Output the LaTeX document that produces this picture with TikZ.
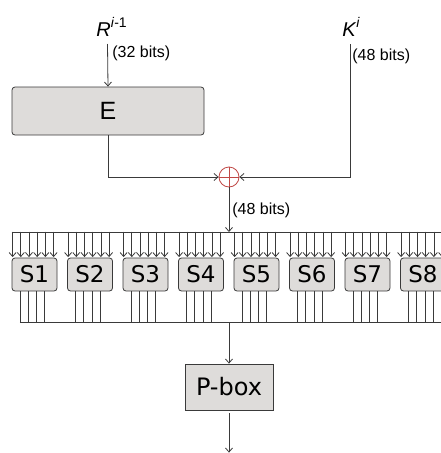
\documentclass[tikz,border=0pt]{standalone}
\usepackage{fontspec}
\setmainfont{Liberation Sans}
\newfontfamily\boxfont{DejaVu Sans}
\usepackage{tikz}
\usetikzlibrary{positioning, arrows.meta, calc}
\definecolor{BoxFill}{RGB}{222,220,218}
\definecolor{WireGray}{RGB}{58,58,58}
\definecolor{XorRed}{RGB}{192,72,70}

\begin{document}
\begin{tikzpicture}[x=1pt, y=-1pt, line width=0.8pt,
    wire/.style={draw=WireGray},
    arr/.style={wire, -{Straight Barb[length=4pt, width=7pt]}},
    block/.style={draw=WireGray, fill=BoxFill, inner sep=0pt},
    sbox/.style={block, rounded corners=3pt, minimum width=45pt, minimum height=33pt, font=\boxfont\fontsize{23}{23}\selectfont},
    bits/.style={font=\fontsize{16}{16}\selectfont, inner sep=0pt, anchor=west}]
  \useasboundingbox (0,0) rectangle (441,453);
  % inputs
  \node[anchor=base west, inner sep=0pt, font=\fontsize{20}{20}\selectfont] (rlabel) at (96,36)
    {\textit{R}\raisebox{9pt}{\fontsize{14}{14}\selectfont\textit{i}-1}};
  \node[anchor=base west, inner sep=0pt, font=\fontsize{20}{20}\selectfont] (klabel) at (342,36)
    {\textit{K}\raisebox{9pt}{\fontsize{14}{14}\selectfont\textit{i}}};
  \coordinate (rin) at (107.5,44);
  \coordinate (kin) at (350,44);
  \node[block, rounded corners=3pt, minimum width=192pt, minimum height=48pt, font=\fontsize{25}{25}\selectfont] (E) at (108,111) {E};
  \node[circle, draw=XorRed, minimum size=20pt, inner sep=0pt] (xor) at (229,177) {};
  \draw[XorRed] (xor.north) -- (xor.south) (xor.west) -- (xor.east);
  \node[bits] (rbits) at (112,53) {(32 bits)};
  \node[bits] (kbits) at (352,56) {(48 bits)};
  \node[bits] (xbits) at (232,210) {(48 bits)};
  \draw[arr] (rin) -- (E.north);
  \draw[arr] (E.south) |- (xor.west);
  \draw[arr] (kin) |- (xor.east);
  \coordinate (bus) at (229,232);
  \draw[arr] (xor.south) -- (bus);
  % S-boxes
  \foreach \k in {1,...,8}
    \node[sbox] (s\k) at ({34.5+55.5*(\k-1)},274.5) {S\k};
  \draw[wire] (s1.north west |- bus) -- (s8.north east |- bus);
  \foreach \k in {1,...,8} {
    \foreach \j in {0,...,5}
      \draw[arr] (s\k.north west) ++({1+8.2*\j},-26) -- ++(0,25.5);
    \foreach \j in {0,...,3}
      \draw[wire] (s\k.south west) ++({8.3+8.3*\j},0) -- ++(0,31);
  }
  \draw[wire] ($(s1.south west)+(8.3,31)$) -- ($(s8.south east)+(0,31)$);
  \coordinate (bus2) at (229,322);
  % P-box
  \node[block, minimum width=88pt, minimum height=46pt, font=\boxfont\fontsize{24}{24}\selectfont] (pbox) at (229,387) {P-box};
  \coordinate (pout) at (229,452.6);
  \draw[arr] (bus2) -- (pbox.north);
  \draw[arr] (pbox.south) ++(0,3) -- (pout);
\end{tikzpicture}
\end{document}
